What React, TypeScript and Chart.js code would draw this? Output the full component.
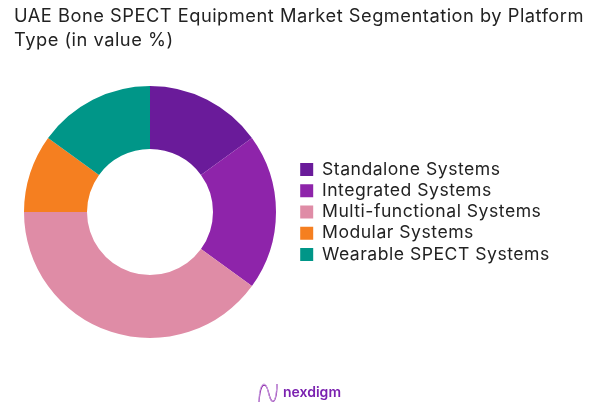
import React, { useEffect, useRef } from "react";
import Chart from "chart.js/auto";

const titleLines = [
  "UAE Bone SPECT Equipment Market Segmentation by Platform",
  "Type (in value %)",
];
const categories = [
  "Standalone Systems",
  "Integrated Systems",
  "Multi-functional Systems",
  "Modular Systems",
  "Wearable SPECT Systems",
];
const shares = [15, 20, 40, 10, 15];
const colors = ["#6A1B9A", "#8E24AA", "#DF8CA6", "#F57F20", "#009688"];

const FONT = "Inter, sans-serif";

// fixed donut box and legend spot, and text is a bit wider than plain Inter
const placeBoxes = {
  id: "placeBoxes",
  afterLayout(c: any) {
    c.legend.left = 296.6;
    c.legend.right = 601;
    c.legend.top = 7;
    c.legend.bottom = 417;
    const a = c.chartArea;
    a.left = 24;
    a.right = 276;
    a.top = 86;
    a.bottom = 338;
    a.width = 252;
    a.height = 252;
  },
  beforeDraw(c: any) {
    c.ctx.letterSpacing = "0.5px";
  },
};

export default function App() {
  const ref = useRef<HTMLCanvasElement | null>(null);

  useEffect(() => {
    if (!ref.current) return;
    const chart = new Chart(ref.current, {
      type: "doughnut",
      data: {
        labels: categories,
        datasets: [{ data: shares, backgroundColor: colors, borderWidth: 0 }],
      },
      options: {
        responsive: false,
        animation: false,
        cutout: "50%",
        layout: { padding: { left: 14, right: 0, top: 5, bottom: 0 } },
        plugins: {
          tooltip: { enabled: false },
          title: {
            display: true,
            text: titleLines,
            align: "start",
            color: "#222222",
            font: { family: FONT, size: 18.3, weight: "normal", lineHeight: 1.3 },
            padding: { top: 0, bottom: 32 },
          },
          legend: {
            position: "right",
            labels: {
              boxWidth: 13,
              boxHeight: 13,
              padding: 3.6,
              color: "#222222",
              font: { family: FONT, size: 17.6 },
            },
          },
        },
      },
      plugins: [placeBoxes],
    });
    return () => chart.destroy();
  }, []);

  return (
    <div style={{ position: "absolute", left: 0, top: 0, width: 601, height: 417, background: "#fff" }}>
      <canvas ref={ref} width={601} height={417} style={{ display: "block" }} />
      <svg width={22} height={24} viewBox="0 0 22 24" style={{ position: "absolute", left: 257, top: 381 }}>
        <path d="M2 21 C3 6 6 2 9 5 C12 9 12 18 15 20 C18 22 20 14 20 3" fill="none" stroke="#8E24AA" strokeWidth={1.2} />
        <path d="M2 21 C2 10 4 3 7 3 C11 3 11 15 14 19 C17 23 19 18 20 3" fill="none" stroke="#C9A2E0" strokeWidth={1} />
      </svg>
      <div style={{ position: "absolute", left: 283, top: 382, fontFamily: FONT, fontSize: 14, fontWeight: 600, color: "#7B22B0", lineHeight: "20px" }}>
        nexdigm
      </div>
    </div>
  );
}
